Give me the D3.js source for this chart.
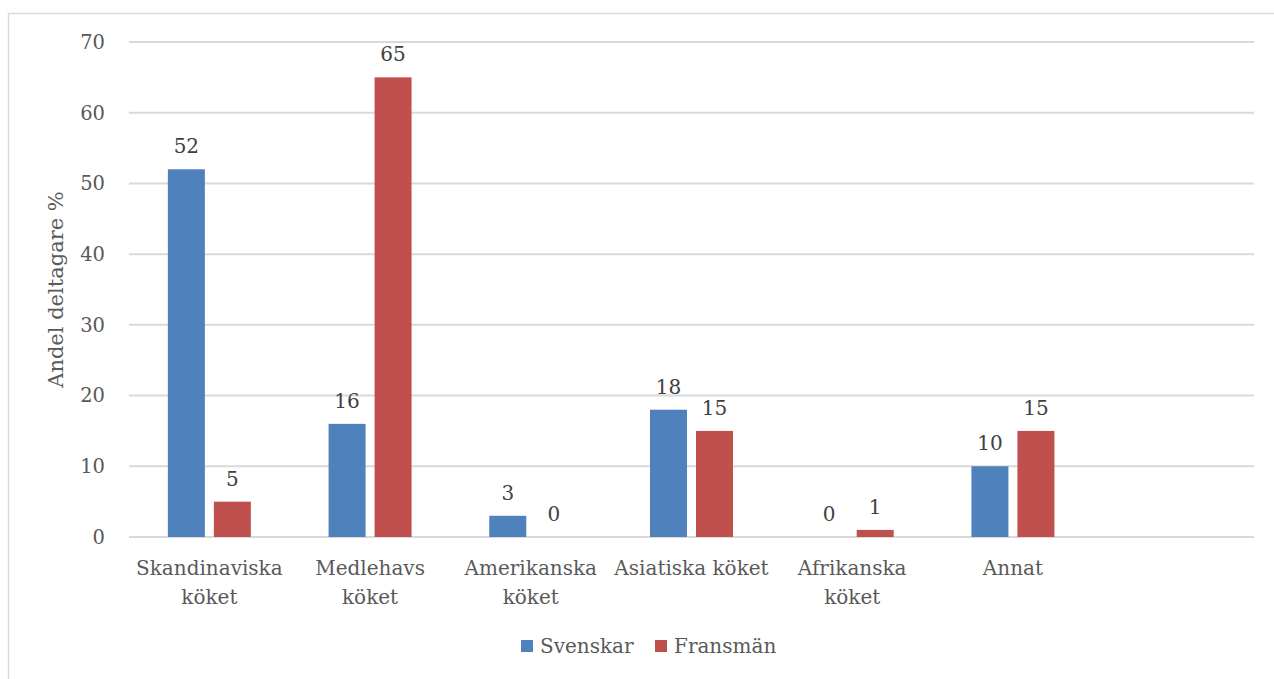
<!DOCTYPE html>
<html>
<head>
<meta charset="utf-8">
<script src="https://cdn.jsdelivr.net/npm/d3@7"></script>
<style>
  body { margin: 0; background: #fff; }
  text { font-family: "DejaVu Serif", serif; fill: #595959; }
</style>
</head>
<body>
<svg width="1274" height="679"></svg>
<script>
// categories (last slot is empty in the original chart)
var categories = ["Skandinaviska köket", "Medlehavs köket", "Amerikanska köket", "Asiatiska köket", "Afrikanska köket", "Annat", ""]
var catLines = [["Skandinaviska", "köket"], ["Medlehavs", "köket"], ["Amerikanska", "köket"], ["Asiatiska köket"], ["Afrikanska", "köket"], ["Annat"], []]
var svenskar = [52, 16, 3, 18, 0, 10]
var fransman = [5, 65, 0, 15, 1, 15]
var seriesNames = ["Svenskar", "Fransmän"]
var yTicks = [0, 10, 20, 30, 40, 50, 60, 70]

var colors = ["#4F81BD", "#C0504D"]

var svg = d3.select("svg")

// outer frame
svg.append("rect")
    .attr("x", 8.5).attr("y", 13.5)
    .attr("width", 1300).attr("height", 700)
    .attr("fill", "none").attr("stroke", "#D9D9D9").attr("stroke-width", 1.5)

var margin = {left: 129, right: 20, top: 42, bottom: 142},
    width = 1254 - margin.left,
    height = 537 - margin.top

var g = svg.append("g").attr("transform", "translate(" + margin.left + "," + margin.top + ")")

var x = d3.scaleBand().domain(categories).range([0, width])
var y = d3.scaleLinear().domain([0, 70]).range([height, 0])

// gridlines
g.selectAll(".grid").data(yTicks).enter().append("line")
    .attr("x1", 0).attr("x2", width)
    .attr("y1", function(d) { return y(d) }).attr("y2", function(d) { return y(d) })
    .attr("stroke", "#D9D9D9").attr("stroke-width", 2)

// y axis labels
g.selectAll(".ytick").data(yTicks).enter().append("text")
    .attr("x", -24).attr("y", function(d) { return y(d) })
    .attr("dy", "0.35em")
    .attr("text-anchor", "end")
    .style("font-size", "19.5px")
    .text(function(d) { return d })

// y axis title
g.append("text")
    .attr("transform", "translate(-66," + (y(35)) + ") rotate(-90)")
    .attr("text-anchor", "middle")
    .style("font-size", "21px")
    .text("Andel deltagare %")

var barW = 37, gap = 9
var series = [svenskar, fransman]

series.forEach(function(vals, s) {
    var off = (x.bandwidth() - (2 * barW + gap)) / 2 + s * (barW + gap)
    var cats = categories.slice(0, vals.length)
    g.selectAll(".bar" + s).data(vals).enter().append("rect")
        .attr("x", function(d, i) { return x(cats[i]) + off })
        .attr("y", function(d) { return y(d) })
        .attr("width", barW)
        .attr("height", function(d) { return height - y(d) })
        .attr("fill", colors[s])
    g.selectAll(".lbl" + s).data(vals).enter().append("text")
        .attr("x", function(d, i) { return x(cats[i]) + off + barW / 2 })
        .attr("y", function(d) { return y(d) - 16 })
        .attr("text-anchor", "middle")
        .style("font-size", "20px")
        .style("fill", "#404040")
        .text(function(d) { return d })
})

// category labels
categories.forEach(function(c, i) {
    var t = g.append("text")
        .attr("text-anchor", "middle")
        .attr("x", x(c) + x.bandwidth() / 2)
        .attr("y", height + 38)
        .style("font-size", "20px")
    catLines[i].forEach(function(line, j) {
        t.append("tspan")
            .attr("x", x(c) + x.bandwidth() / 2)
            .attr("dy", j == 0 ? 0 : 29)
            .text(line)
    })
})

// legend
var legend = svg.append("g").attr("transform", "translate(521,640)")
var lx = [0, 134]
seriesNames.forEach(function(n, i) {
    legend.append("rect").attr("x", lx[i]).attr("y", 0).attr("width", 12).attr("height", 12).attr("fill", colors[i])
    legend.append("text").attr("x", lx[i] + 19).attr("y", 6).attr("dy", "0.35em")
        .style("font-size", "20px").text(n)
})
</script>
</body>
</html>
